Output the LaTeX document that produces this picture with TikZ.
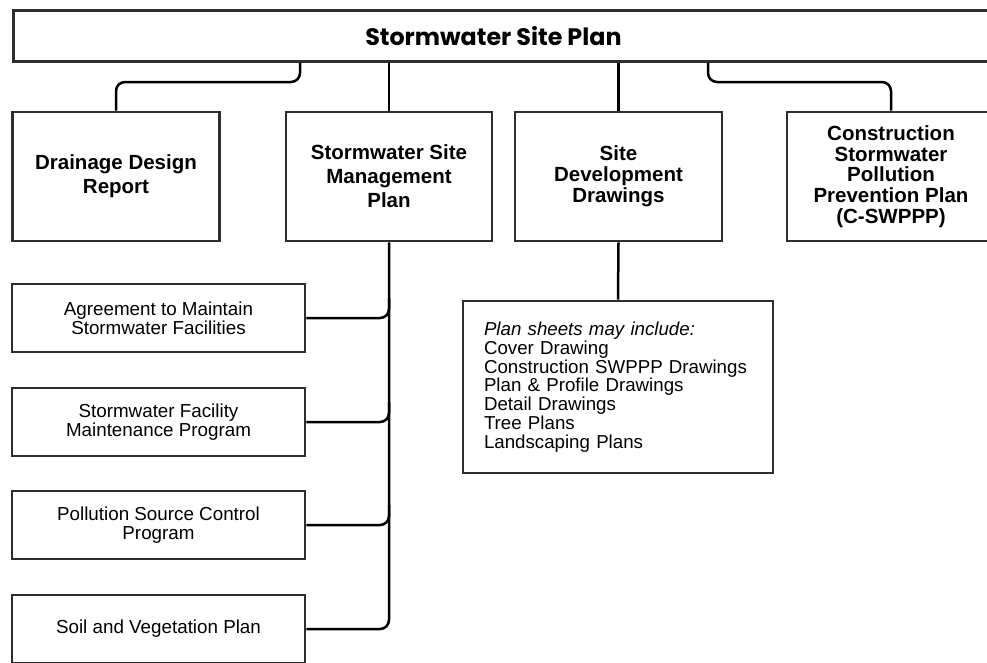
\documentclass[tikz,border=0pt]{standalone}
\usepackage{fontspec}
\setmainfont{Liberation Sans}
\newfontfamily\titlefont{Poppins}
\begin{document}
\begin{tikzpicture}[x=1pt,y=-1pt,
  box/.style={draw=black!82,line width=2.8pt,fill=white,inner sep=0pt,align=center},
  headbox/.style={box,minimum width=207pt,minimum height=129pt,font=\fontsize{20.5}{24}\selectfont\bfseries},
  subbox/.style={box,minimum width=293pt,minimum height=68pt,font=\fontsize{18.8}{19}\selectfont},
  conn/.style={draw=black,line width=2.5pt,rounded corners=9pt}]
\useasboundingbox (0,0) rectangle (987,662);
\clip (0,0) rectangle (987,662);
\fill[white] (0,0) rectangle (987,662);
% top
\node[box,minimum width=990pt,minimum height=51pt,anchor=north west,font=\titlefont\bfseries\fontsize{23.8}{26}\selectfont] (top) at (12,9) {\hspace*{-30pt}Stormwater Site Plan};
% row 2
\node[headbox] (dd) at (116,176.5) {Drainage Design\\Report};
\node[headbox,minimum width=206pt] (ssmp) at (389,176.5) {Stormwater Site\\Management\\Plan};
\node[headbox,font=\fontsize{20.5}{21}\selectfont\bfseries] (sdd) at (618.5,176.5) {Site\\Development\\Drawings};
\node[headbox,minimum width=208pt,font=\fontsize{20.5}{20.7}\selectfont\bfseries] (cs) at (891,176.5) {Construction\\Stormwater\\Pollution\\Prevention Plan\\(C-SWPPP)};
% sub boxes
\node[subbox] (b1) at (158.5,318) {Agreement to Maintain\\Stormwater Facilities};
\node[subbox] (b2) at (158.5,422) {Stormwater Facility\\Maintenance Program};
\node[subbox] (b3) at (158.5,525) {Pollution Source Control\\Program};
\node[subbox] (b4) at (158.5,629) {Soil and Vegetation Plan};
% plan sheets
\node[box,minimum width=310pt,minimum height=172pt,text width=268pt,align=left,font=\fontsize{18.7}{18.8}\selectfont] (ps) at (618,387) {\textit{Plan sheets may include:}\\Cover Drawing\\Construction SWPPP Drawings\\Plan \& Profile Drawings\\Detail Drawings\\Tree Plans\\Landscaping Plans};
% connectors from top
\coordinate (cl) at (300,0);
\coordinate (cr) at (708,0);
\draw[conn] (top.south -| cl) -- (300,82) -- (116,82) -- (dd.north);
\draw[conn] (top.south -| ssmp.north) -- (ssmp.north);
\draw[conn] (top.south -| sdd.north) -- (sdd.north);
\draw[conn] (top.south -| cr) -- (708,82) -- (891,82) -- (cs.north);
% SSMP trunk
\draw[conn] (ssmp.south) -- (ssmp.south |- b4.east) -- (b4.east);
\draw[conn] (b1.east) -- (b1.east -| ssmp.south) -- ++(0,-20);
\draw[conn] (b2.east) -- (b2.east -| ssmp.south) -- ++(0,-20);
\draw[conn] (b3.east) -- (b3.east -| ssmp.south) -- ++(0,-20);
% SDD to plan sheets
\draw[conn] (sdd.south) -- (ps.north);
\end{tikzpicture}
\end{document}
